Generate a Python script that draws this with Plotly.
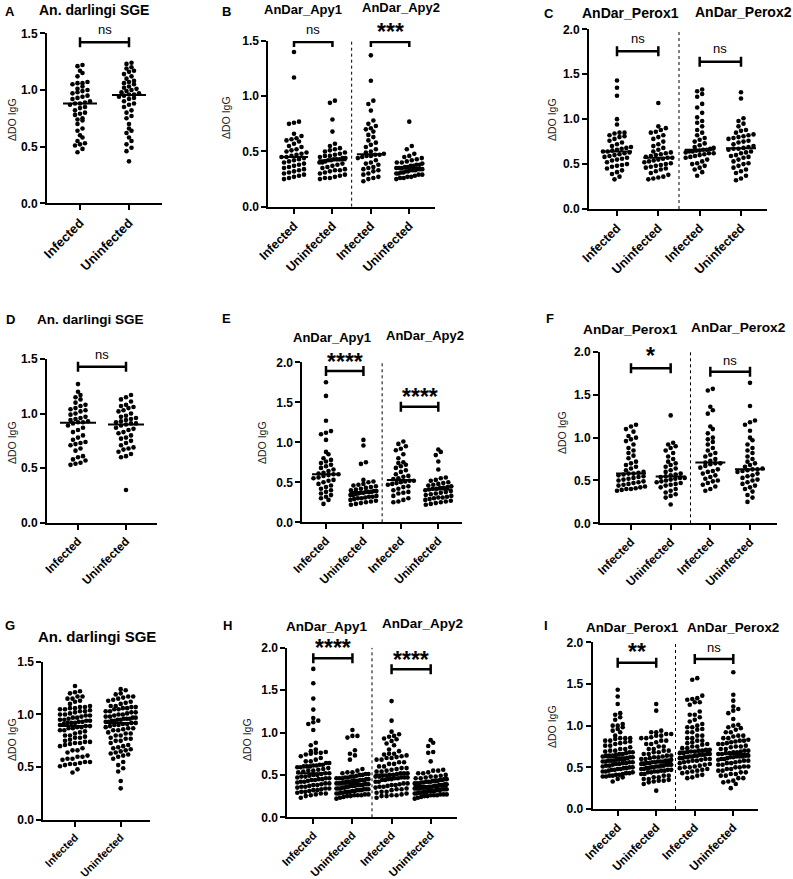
import numpy as np
import plotly.graph_objects as go

W, H = 793, 879

# ---------------- data (ΔDO IgG) ----------------
cats2 = ["Infected", "Uninfected"]
cats4 = ["Infected", "Uninfected", "Infected", "Uninfected"]

A_inf = [1.22,1.21,1.17,1.15,1.12,1.07,1.06,1.06,1.05,1.03,1.01,1.00,0.99,0.98,0.97,0.95,0.94,0.93,0.92,0.90,0.89,0.88,
         0.88,0.87,0.85,0.84,0.82,0.80,0.79,0.78,0.75,0.74,0.73,0.70,0.66,0.64,0.60,0.58,0.55,0.53,0.52,0.51,0.48,0.45]
A_uninf = [1.24,1.23,1.20,1.19,1.17,1.16,1.14,1.12,1.10,1.08,1.07,1.06,1.05,1.03,1.02,1.01,1.00,0.99,0.98,0.97,0.96,0.96,
           0.95,0.94,0.93,0.92,0.90,0.88,0.87,0.85,0.82,0.80,0.77,0.75,0.70,0.66,0.64,0.62,0.58,0.55,0.52,0.49,0.46,0.37]

B_apy1_inf = [1.40,1.17,0.77,0.76,0.75,0.66,0.64,0.62,0.61,0.60,0.59,0.57,0.55,0.54,0.52,0.51,0.50,0.49,0.48,0.47,0.46,0.45,
              0.45,0.44,0.43,0.42,0.41,0.40,0.39,0.38,0.37,0.36,0.35,0.34,0.33,0.32,0.31,0.30,0.29,0.28,0.27,0.26,0.25]
B_apy1_uninf = [0.96,0.94,0.79,0.68,0.57,0.55,0.53,0.52,0.51,0.50,0.49,0.48,0.47,0.46,0.46,0.45,0.44,0.44,0.43,0.43,0.43,0.42,
                0.42,0.41,0.40,0.40,0.39,0.38,0.37,0.36,0.35,0.34,0.33,0.33,0.32,0.31,0.30,0.29,0.28,0.27,0.26,0.26,0.25]
B_apy2_inf = [1.37,1.14,0.96,0.93,0.87,0.78,0.75,0.73,0.71,0.70,0.68,0.65,0.63,0.60,0.58,0.56,0.54,0.52,0.50,0.49,0.48,0.47,
              0.47,0.46,0.46,0.45,0.44,0.42,0.40,0.39,0.38,0.36,0.35,0.34,0.33,0.32,0.30,0.29,0.27,0.26,0.25,0.23]
B_apy2_uninf = [0.77,0.55,0.52,0.48,0.46,0.45,0.44,0.43,0.42,0.41,0.40,0.40,0.39,0.38,0.38,0.37,0.37,0.36,0.36,0.35,0.35,0.35,
                0.34,0.34,0.34,0.33,0.33,0.33,0.32,0.32,0.31,0.31,0.30,0.30,0.29,0.29,0.28,0.27,0.27,0.26,0.26,0.25]

C_p1_inf = [1.43,1.35,1.26,1.00,0.94,0.85,0.85,0.84,0.82,0.81,0.80,0.78,0.76,0.74,0.72,0.70,0.69,0.68,0.67,0.66,0.65,0.64,
            0.64,0.63,0.62,0.61,0.60,0.59,0.58,0.57,0.56,0.55,0.54,0.52,0.50,0.49,0.48,0.47,0.45,0.43,0.41,0.39,0.36,0.33]
C_p1_uninf = [1.18,0.92,0.90,0.88,0.86,0.85,0.82,0.80,0.78,0.75,0.72,0.70,0.68,0.66,0.64,0.63,0.62,0.61,0.60,0.59,0.58,0.57,
              0.57,0.56,0.55,0.54,0.53,0.52,0.51,0.50,0.49,0.48,0.47,0.46,0.45,0.44,0.42,0.40,0.38,0.36,0.35,0.34,0.33]
C_p2_inf = [1.33,1.31,1.28,1.25,1.17,1.13,1.07,1.02,0.98,0.96,0.92,0.88,0.85,0.82,0.79,0.77,0.75,0.73,0.71,0.69,0.68,0.67,
            0.66,0.66,0.65,0.65,0.64,0.64,0.63,0.62,0.62,0.61,0.60,0.59,0.58,0.57,0.55,0.53,0.51,0.50,0.48,0.46,0.44,0.41,0.37]
C_p2_uninf = [1.30,1.23,1.01,0.98,0.95,0.92,0.88,0.87,0.85,0.83,0.82,0.81,0.80,0.79,0.78,0.76,0.75,0.74,0.72,0.70,0.69,0.68,
              0.67,0.67,0.66,0.64,0.63,0.62,0.60,0.59,0.58,0.57,0.55,0.53,0.51,0.50,0.48,0.46,0.44,0.42,0.40,0.37,0.34,0.32]

D_inf = [1.27,1.20,1.17,1.15,1.13,1.10,1.08,1.07,1.05,1.04,1.03,1.02,1.00,0.99,0.97,0.96,0.95,0.94,0.93,0.92,0.92,
         0.91,0.89,0.87,0.85,0.83,0.80,0.78,0.76,0.74,0.73,0.72,0.71,0.68,0.66,0.61,0.60,0.58,0.57,0.55,0.54,0.53]
D_uninf = [1.17,1.15,1.13,1.11,1.08,1.07,1.06,1.05,1.03,1.02,1.00,0.98,0.97,0.96,0.95,0.94,0.93,0.92,0.91,0.91,0.90,
           0.89,0.87,0.86,0.85,0.83,0.82,0.80,0.78,0.77,0.75,0.73,0.71,0.69,0.68,0.67,0.65,0.63,0.61,0.60,0.30]

E_apy1_inf = [1.75,1.58,1.27,1.14,1.12,1.10,1.03,0.88,0.85,0.80,0.78,0.76,0.74,0.72,0.70,0.68,0.66,0.64,0.62,0.61,0.60,
              0.60,0.59,0.58,0.56,0.55,0.53,0.52,0.50,0.48,0.46,0.44,0.42,0.40,0.38,0.36,0.34,0.32,0.30,0.28,0.23]
E_apy1_uninf = [1.03,0.96,0.75,0.73,0.53,0.51,0.50,0.48,0.47,0.46,0.45,0.44,0.43,0.42,0.41,0.40,0.39,0.39,0.38,0.38,0.38,
                0.37,0.37,0.36,0.35,0.34,0.34,0.33,0.32,0.32,0.31,0.30,0.30,0.29,0.28,0.27,0.26,0.25,0.24,0.23,0.22]
E_apy2_inf = [1.01,0.98,0.95,0.92,0.90,0.85,0.80,0.75,0.74,0.72,0.70,0.68,0.65,0.63,0.60,0.58,0.57,0.55,0.54,0.52,
              0.52,0.51,0.50,0.49,0.48,0.47,0.45,0.44,0.42,0.40,0.38,0.37,0.36,0.33,0.30,0.28,0.26,0.25]
E_apy2_uninf = [0.91,0.88,0.84,0.76,0.66,0.56,0.55,0.53,0.52,0.50,0.49,0.48,0.47,0.46,0.45,0.44,0.43,0.43,0.42,0.42,0.41,
                0.40,0.39,0.38,0.37,0.36,0.35,0.34,0.33,0.32,0.31,0.31,0.30,0.29,0.28,0.27,0.26,0.25,0.24,0.23,0.22]

F_p1_inf = [1.15,1.13,1.10,1.07,1.02,1.00,0.98,0.96,0.92,0.88,0.85,0.82,0.79,0.76,0.72,0.70,0.68,0.66,0.64,0.62,0.60,0.59,
            0.58,0.58,0.57,0.56,0.55,0.54,0.53,0.52,0.51,0.50,0.49,0.48,0.47,0.46,0.45,0.44,0.43,0.42,0.41,0.40,0.40,0.39,0.38]
F_p1_uninf = [1.26,0.94,0.92,0.90,0.88,0.85,0.82,0.78,0.75,0.72,0.70,0.68,0.66,0.64,0.62,0.60,0.58,0.57,0.56,0.55,
              0.54,0.53,0.53,0.52,0.51,0.50,0.49,0.48,0.47,0.46,0.45,0.44,0.42,0.40,0.38,0.36,0.34,0.32,0.30,0.22]
F_p2_inf = [1.57,1.55,1.36,1.32,1.28,1.13,1.10,1.05,1.00,0.98,0.95,0.92,0.88,0.85,0.82,0.80,0.78,0.75,0.73,0.71,
            0.70,0.70,0.69,0.67,0.65,0.63,0.61,0.60,0.58,0.56,0.54,0.52,0.50,0.49,0.47,0.45,0.43,0.40,0.38]
F_p2_uninf = [1.64,1.37,1.20,1.18,1.15,1.08,1.00,0.97,0.92,0.88,0.85,0.82,0.78,0.75,0.72,0.70,0.68,0.66,0.64,0.63,
              0.63,0.62,0.61,0.60,0.58,0.56,0.55,0.53,0.51,0.50,0.48,0.46,0.44,0.42,0.40,0.37,0.33,0.30,0.25]

# combined cohorts (rows G-I pool rows A-C and D-F)
G_inf, G_uninf = A_inf + D_inf, A_uninf + D_uninf
H_apy1_inf, H_apy1_uninf = B_apy1_inf + E_apy1_inf, B_apy1_uninf + E_apy1_uninf
H_apy2_inf, H_apy2_uninf = B_apy2_inf + E_apy2_inf, B_apy2_uninf + E_apy2_uninf
I_p1_inf, I_p1_uninf = C_p1_inf + F_p1_inf, C_p1_uninf + F_p1_uninf
I_p2_inf, I_p2_uninf = C_p2_inf + F_p2_inf, C_p2_uninf + F_p2_uninf

# ---------------- panel layout (pixel geometry) ----------------
panels = [
    dict(letter="A", lxy=(10, 12), groups=[A_inf, A_uninf], cats=cats2, cfs=13,
         x0=47, x1=162, c0=80, c1=129, y0=203.3, yt=33.3, ymax=1.5, hw=16,
         titles=[("An. darlingi SGE", 94, 10, 14)], ytitle=(12, 120),
         sig=[(0, 1, 1.42, "ns", 29)]),
    dict(letter="B", lxy=(226, 12), groups=[B_apy1_inf, B_apy1_uninf, B_apy2_inf, B_apy2_uninf], cats=cats4, cfs=12.5,
         x0=268.3, x1=435, c0=294, c1=409.3, y0=206.7, yt=41, ymax=1.5, hw=13,
         titles=[("AnDar_Apy1", 303, 9.5, 13), ("AnDar_Apy2", 401, 8, 13)], ytitle=(226, 118),
         sig=[(0, 1, 1.49, "ns", 29), (2, 3, 1.49, "***", 31)]),
    dict(letter="C", lxy=(549, 13), groups=[C_p1_inf, C_p1_uninf, C_p2_inf, C_p2_uninf], cats=cats4, cfs=12.5,
         x0=589, x1=767, c0=617, c1=741, y0=209, yt=29.3, ymax=2.0, hw=14,
         titles=[("AnDar_Perox1", 630, 13, 14), ("AnDar_Perox2", 743, 12, 14)], ytitle=(552, 120),
         sig=[(0, 1, 1.756, "ns", 38), (2, 3, 1.64, "ns", 49)]),
    dict(letter="D", lxy=(10, 319), groups=[D_inf, D_uninf], cats=cats2, cfs=11.8,
         x0=47, x1=157, c0=78, c1=126, y0=522.7, yt=359, ymax=1.5, hw=17,
         titles=[("An. darlingi SGE", 90, 319, 13.5)], ytitle=(12, 443),
         sig=[(0, 1, 1.43, "ns", 354)]),
    dict(letter="E", lxy=(226, 318), groups=[E_apy1_inf, E_apy1_uninf, E_apy2_inf, E_apy2_uninf], cats=cats4, cfs=11.8,
         x0=302.3, x1=462, c0=326, c1=438.3, y0=522.3, yt=362.3, ymax=2.0, hw=13,
         titles=[("AnDar_Apy1", 332, 337, 13), ("AnDar_Apy2", 424.5, 335, 13)], ytitle=(262, 443),
         sig=[(0, 1, 1.89, "****", 361), (2, 3, 1.445, "****", 396)]),
    dict(letter="F", lxy=(550, 318), groups=[F_p1_inf, F_p1_uninf, F_p2_inf, F_p2_uninf], cats=cats4, cfs=12,
         x0=600, x1=776.7, c0=631, c1=750, y0=523.3, yt=352, ymax=2.0, hw=14,
         titles=[("AnDar_Perox1", 630, 329, 13.7), ("AnDar_Perox2", 738.5, 327, 13.7)], ytitle=(562, 433),
         sig=[(0, 1, 1.81, "*", 355), (2, 3, 1.77, "ns", 360)]),
    dict(letter="G", lxy=(10, 625), groups=[G_inf, G_uninf], cats=cats2, cfs=10.8,
         x0=43.3, x1=150, c0=75, c1=120.7, y0=820, yt=661.7, ymax=1.5, hw=15,
         titles=[("An. darlingi SGE", 97, 636, 15)], ytitle=(12, 740),
         sig=[]),
    dict(letter="H", lxy=(227, 625), groups=[H_apy1_inf, H_apy1_uninf, H_apy2_inf, H_apy2_uninf], cats=cats4, cfs=11.3,
         x0=287.3, x1=456.7, c0=313.3, c1=430.7, y0=817.3, yt=647.7, ymax=2.0, hw=16,
         titles=[("AnDar_Apy1", 326.7, 626, 13.5), ("AnDar_Apy2", 422.5, 623, 13.5)], ytitle=(247, 740),
         sig=[(0, 1, 1.875, "****", 647), (2, 3, 1.745, "****", 659)]),
    dict(letter="I", lxy=(546, 625), groups=[I_p1_inf, I_p1_uninf, I_p2_inf, I_p2_uninf], cats=cats4, cfs=11.8,
         x0=592.7, x1=758.3, c0=617.7, c1=733.3, y0=809, yt=642.3, ymax=2.0, hw=15,
         titles=[("AnDar_Perox1", 632, 627, 13.4), ("AnDar_Perox2", 733, 627, 13.4)], ytitle=(552, 727),
         sig=[(0, 1, 1.756, "**", 651), (2, 3, 1.80, "ns", 647)]),
]

FONT = "Liberation Sans, Arial, sans-serif"
ROW_H = 4.5    # px height of one swarm row
DOT_SP = 5.0   # px horizontal spacing of dots in a row


def swarm(vals, ppu, maxw):
    """GraphPad-like scatter: dots with close values are laid side by side in a centred row."""
    vals = np.asarray(vals, float)
    ypx = vals * ppu
    order = list(np.argsort(ypx, kind="stable"))
    offs = np.zeros(len(vals))
    rows, cur = [], [order[0]]
    for idx in order[1:]:
        if ypx[idx] - ypx[cur[0]] < ROW_H:
            cur.append(idx)
        else:
            rows.append(cur)
            cur = [idx]
    rows.append(cur)
    for r in rows:
        k = len(r)
        sp = DOT_SP if (k - 1) * DOT_SP <= 2 * maxw else 2 * maxw / (k - 1)
        for j, idx in enumerate(r):
            offs[idx] = (j - (k - 1) / 2) * sp
    return offs


def P(px, py):
    return px / W, 1 - py / H


fig = go.Figure()
shapes, annotations = [], []
layout_axes = {}

for k, p in enumerate(panels, start=1):
    n = len(p["cats"])
    s = (p["c1"] - p["c0"]) / (n - 1)          # px per x unit
    ppu = (p["y0"] - p["yt"]) / p["ymax"]      # px per y unit
    xa = "x" if k == 1 else f"x{k}"
    ya = "y" if k == 1 else f"y{k}"
    xname = "xaxis" if k == 1 else f"xaxis{k}"
    yname = "yaxis" if k == 1 else f"yaxis{k}"

    ymax = p["ymax"]
    yt_vals = list(np.arange(0, ymax + 1e-9, 0.5))
    layout_axes[xname] = dict(
        domain=[p["x0"] / W, p["x1"] / W], anchor=ya, automargin=False,
        range=[(p["x0"] - p["c0"]) / s, (p["x1"] - p["c0"]) / s],
        tickvals=list(range(n)), ticktext=[f"<b>{c}</b>" for c in p["cats"]],
        tickangle=-45, tickfont=dict(family=FONT, size=p["cfs"], color="black"),
        showline=True, linewidth=2, linecolor="black", ticks="outside", ticklen=5,
        tickwidth=2, tickcolor="black", showgrid=False, zeroline=False, fixedrange=True,
    )
    layout_axes[yname] = dict(
        domain=[1 - p["y0"] / H, 1 - p["yt"] / H], anchor=xa, automargin=False,
        range=[0, ymax], tickvals=yt_vals, ticktext=[f"<b>{v:.1f}</b>" for v in yt_vals],
        tickfont=dict(family=FONT, size=12, color="black"),
        showline=True, linewidth=2, linecolor="black", ticks="outside", ticklen=5,
        tickwidth=2, tickcolor="black", showgrid=False, zeroline=False, fixedrange=True,
    )

    for gi, vals in enumerate(p["groups"]):
        offs = swarm(vals, ppu, p["hw"]) / s
        fig.add_trace(go.Scatter(
            x=gi + offs, y=vals, mode="markers", xaxis=xa, yaxis=ya,
            marker=dict(size=4.6, color="black"), showlegend=False, hoverinfo="y",
        ))
        med = float(np.median(vals))
        hw = (p["hw"] + 1) / s
        shapes.append(dict(type="line", xref=xa, yref=ya, x0=gi - hw, x1=gi + hw, y0=med, y1=med,
                           line=dict(color="black", width=2)))

    if n == 4:
        shapes.append(dict(type="line", xref=xa, yref=ya, x0=1.5, x1=1.5, y0=0, y1=ymax,
                           line=dict(color="black", width=1, dash="dot")))

    cap = 5 / ppu
    for (i, j, yb, txt, ty) in p["sig"]:
        ln = dict(color="black", width=2.5)
        shapes.append(dict(type="line", xref=xa, yref=ya, x0=i, x1=j, y0=yb, y1=yb, line=ln))
        for e in (i, j):
            shapes.append(dict(type="line", xref=xa, yref=ya, x0=e, x1=e, y0=yb - cap, y1=yb + cap, line=ln))
        cx = p["c0"] + (i + j) / 2 * s
        if txt == "ns":
            ax, ay = P(cx, ty)
            annotations.append(dict(x=ax, y=ay, xref="paper", yref="paper", text="ns", showarrow=False,
                                    font=dict(family=FONT, size=13, color="black"),
                                    xanchor="center", yanchor="middle"))
        else:
            ax, ay = P(cx, ty + 1)
            annotations.append(dict(x=ax, y=ay, xref="paper", yref="paper", text=f"<b>{txt}</b>",
                                    showarrow=False, font=dict(family=FONT, size=23, color="black"),
                                    xanchor="center", yanchor="middle"))

    for (t, tx, ty, ts) in p["titles"]:
        ax, ay = P(tx, ty)
        annotations.append(dict(x=ax, y=ay, xref="paper", yref="paper", text=f"<b>{t}</b>", showarrow=False,
                                font=dict(family=FONT, size=ts, color="black"),
                                xanchor="center", yanchor="middle"))
    ax, ay = P(*p["lxy"])
    annotations.append(dict(x=ax, y=ay, xref="paper", yref="paper", text=f"<b>{p['letter']}</b>",
                            showarrow=False, font=dict(family=FONT, size=13, color="black"),
                            xanchor="center", yanchor="middle"))
    ax, ay = P(*p["ytitle"])
    annotations.append(dict(x=ax, y=ay, xref="paper", yref="paper", text="ΔDO IgG", textangle=-90,
                            showarrow=False, font=dict(family=FONT, size=10.5, color="#222222"),
                            xanchor="center", yanchor="middle"))

fig.update_layout(
    template="none",
    width=W, height=H, margin=dict(l=0, r=0, t=0, b=0, autoexpand=False),
    paper_bgcolor="white", plot_bgcolor="white",
    shapes=shapes, annotations=annotations, showlegend=False,
    **layout_axes,
)

fig.write_html("out.html", config={"displayModeBar": False},
               post_script="document.body.style.margin='0px';document.body.style.overflow='hidden';")
